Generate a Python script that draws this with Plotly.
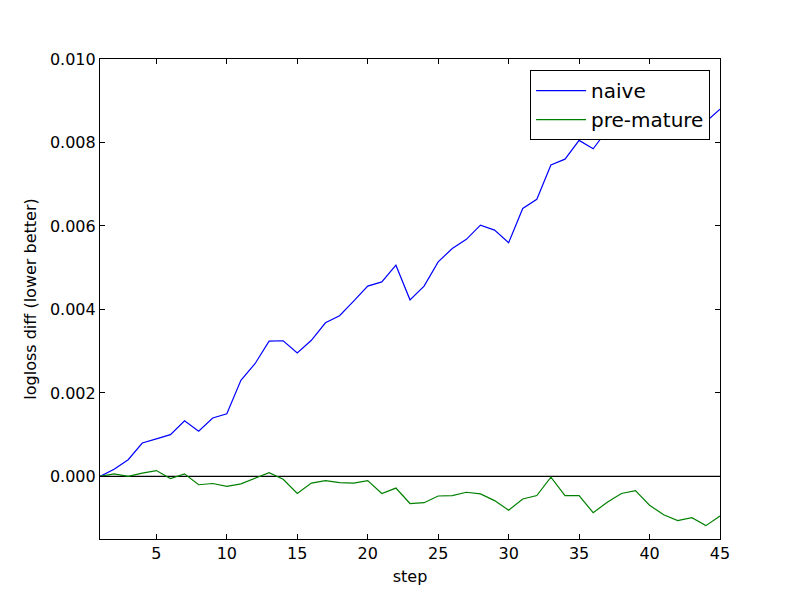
import plotly.graph_objects as go

# ==== Data ====
steps = list(range(1, 46))

naive = [
    0.0, 0.00017, 0.0004, 0.0008, 0.0009, 0.001, 0.00133, 0.00108, 0.0014, 0.0015,
    0.0023, 0.0027, 0.00324, 0.00325, 0.00296, 0.00326, 0.00368, 0.00385, 0.0042, 0.00456,
    0.00466, 0.00506, 0.00423, 0.00456, 0.00514, 0.00546, 0.00568, 0.00602, 0.0059, 0.0056,
    0.00642, 0.00664, 0.00746, 0.0076, 0.00805, 0.00785, 0.0083, 0.0086, 0.0087, 0.0089,
    0.0088, 0.009, 0.0088, 0.0085, 0.0088,
]

pre_mature = [
    0.0, 0.00006, 0.0, 0.00008, 0.00014, -0.00005, 0.00006, -0.0002, -0.00017, -0.00024,
    -0.00018, -0.00004, 0.00009, -0.00007, -0.00041, -0.00016, -0.0001, -0.00015, -0.00016, -0.0001,
    -0.00041, -0.00028, -0.00065, -0.00063, -0.00047, -0.00046, -0.00038, -0.00042, -0.00058, -0.00081,
    -0.00054, -0.00046, -0.00002, -0.00046, -0.00046, -0.00087, -0.00062, -0.00041, -0.00034, -0.00069,
    -0.00092, -0.00106, -0.00099, -0.00118, -0.00095,
]

x_ticks = [5, 10, 15, 20, 25, 30, 35, 40, 45]
y_ticks = [0.0, 0.002, 0.004, 0.006, 0.008, 0.010]

FONT = "DejaVu Sans"

# ==== Build figure ====
fig = go.Figure()
fig.add_trace(go.Scatter(x=steps, y=naive, mode="lines", name="naive",
                         line=dict(color="#0000ff", width=1.2)))
fig.add_trace(go.Scatter(x=steps, y=pre_mature, mode="lines", name="pre-mature",
                         line=dict(color="#008000", width=1.2)))

# zero reference line
fig.add_hline(y=0, line=dict(color="black", width=1.2), layer="below")

axis_common = dict(
    showline=True, linecolor="black", linewidth=1.2, mirror="ticks",
    ticks="inside", ticklen=5, tickcolor="black", tickwidth=1,
    showgrid=False, zeroline=False,
    tickfont=dict(family=FONT, size=16, color="black"),
)

fig.update_xaxes(range=[1, 45], tickvals=x_ticks,
                 title=dict(text="step", font=dict(family=FONT, size=16, color="black"), standoff=8),
                 **axis_common)
fig.update_yaxes(range=[-0.0015, 0.010], tickvals=y_ticks, tickformat=".3f",
                 title=dict(text="logloss diff (lower better)",
                            font=dict(family=FONT, size=16, color="black"), standoff=9),
                 **axis_common)

# page body has an 8px margin, so margins are shifted to land the axes at 100..720 / 59..539
fig.update_layout(
    width=800, height=600,
    margin=dict(l=92, r=88, t=51, b=69),
    paper_bgcolor="white", plot_bgcolor="white",
    showlegend=True,
    legend=dict(
        x=0.984, y=0.977, xanchor="right", yanchor="top",
        bordercolor="black", borderwidth=1, bgcolor="white",
        font=dict(family=FONT, size=20, color="black"),
        tracegroupgap=0, itemwidth=50,
    ),
)

fig.write_html("out.html")
